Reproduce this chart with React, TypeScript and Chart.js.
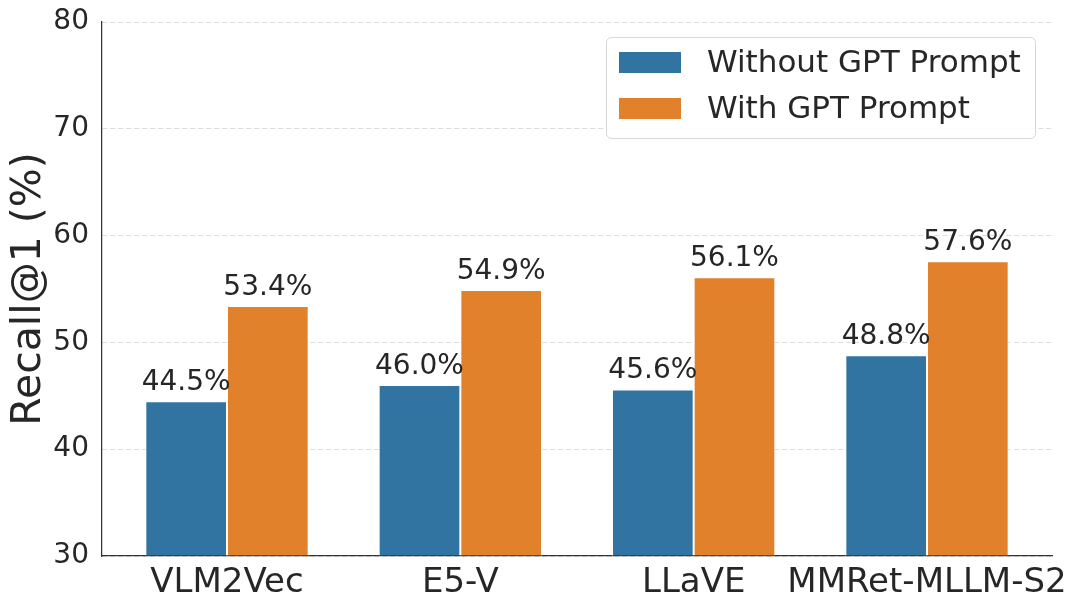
import React, { useEffect, useRef } from "react";
import { Chart, registerables } from "chart.js";

Chart.register(...registerables);

const categories = ["VLM2Vec", "E5-V", "LLaVE", "MMRet-MLLM-S2"];
const withoutGpt = [44.5, 46.0, 45.6, 48.8];
const withGpt = [53.4, 54.9, 56.1, 57.6];
const seriesNames = ["Without GPT Prompt", "With GPT Prompt"];
const seriesColors = ["#3274a1", "#e1812c"];
const yTicks = [30, 40, 50, 60, 70, 80];
const yTitle = "Recall@1 (%)";

const FONT = "'DejaVu Sans', 'Liberation Sans', sans-serif";
const TEXT = "#262626";

const valueLabels = {
  id: "valueLabels",
  afterDatasetsDraw(chart: any) {
    const ctx = chart.ctx;
    ctx.save();
    ctx.font = `28px ${FONT}`;
    ctx.fillStyle = TEXT;
    ctx.textAlign = "center";
    ctx.textBaseline = "alphabetic";
    chart.data.datasets.forEach((ds: any, di: number) => {
      const meta = chart.getDatasetMeta(di);
      meta.data.forEach((el: any, i: number) => {
        const v = ds.data[i].y;
        ctx.fillText(v.toFixed(1) + "%", el.x, el.y - 11);
      });
    });
    ctx.restore();
  },
};

const boxLegend = {
  id: "boxLegend",
  afterDraw(chart: any) {
    const ctx = chart.ctx;
    const area = chart.chartArea;
    const right = area.right - 17;
    const top = area.top + 15;
    const w = 429;
    const h = 101;
    const left = right - w;
    ctx.save();
    ctx.beginPath();
    if (ctx.roundRect) ctx.roundRect(left + 0.5, top + 0.5, w, h, 5);
    else ctx.rect(left + 0.5, top + 0.5, w, h);
    ctx.fillStyle = "rgba(255,255,255,0.85)";
    ctx.fill();
    ctx.strokeStyle = "#d6d6d6";
    ctx.lineWidth = 1;
    ctx.stroke();
    ctx.font = `31px ${FONT}`;
    ctx.textAlign = "left";
    ctx.textBaseline = "middle";
    seriesNames.forEach((name, i) => {
      const cy = top + 25.5 + i * 46;
      ctx.fillStyle = seriesColors[i];
      ctx.fillRect(left + 13, cy - 10.5, 62, 21);
      ctx.fillStyle = TEXT;
      ctx.fillText(name, left + 101, cy + 1);
    });
    ctx.restore();
  },
};

export default function App() {
  const ref = useRef<HTMLCanvasElement | null>(null);
  useEffect(() => {
    if (!ref.current) return;
    const n = categories.length;
    const margin = 0.5357;
    const chart = new Chart(ref.current, {
      type: "bar",
      data: {
        datasets: [withoutGpt, withGpt].map((vals, si) => ({
          label: seriesNames[si],
          data: categories.map((_, i) => ({ x: i, y: vals[i] })),
          backgroundColor: seriesColors[si],
          borderColor: "#ffffff",
          borderWidth: 1,
          base: yTicks[0],
          categoryPercentage: 0.7,
          barPercentage: 1.0,
        })),
      },
      options: {
        responsive: false,
        animation: false,
        devicePixelRatio: 1,
        layout: { padding: { top: 22, right: 28, left: 0, bottom: 0 } },
        plugins: {
          legend: { display: false },
          tooltip: { enabled: false },
        },
        scales: {
          x: {
            type: "linear",
            offset: false,
            min: -margin,
            max: n - 1 + margin,
            grid: { display: false, drawTicks: false, offset: false },
            border: { display: true, color: "#333333", width: 1.25 },
            ticks: {
              font: { family: FONT, size: 34 },
              color: TEXT,
              padding: 7,
              maxRotation: 0,
              autoSkip: false,
              callback: (v: any) => categories[Math.round(v)] ?? "",
            },
            afterBuildTicks: (axis: any) => {
              axis.ticks = categories.map((_, i) => ({ value: i }));
            },
            afterFit: (axis: any) => {
              axis.height = 56;
            },
          },
          y: {
            min: yTicks[0],
            max: yTicks[yTicks.length - 1],
            grid: {
              color: "#dddddd",
              lineWidth: 1,
              drawTicks: false,
            },
            border: { display: true, color: "#333333", width: 1.25, dash: [5, 3] },
            ticks: {
              font: { family: FONT, size: 28, lineHeight: 0.6 },
              color: TEXT,
              padding: 13,
            },
            afterBuildTicks: (axis: any) => {
              axis.ticks = yTicks.map((v) => ({ value: v }));
            },
            afterFit: (axis: any) => {
              axis.width = 102;
              axis.paddingTop = 0;
              axis.paddingBottom = 0;
            },
            title: {
              display: true,
              text: yTitle,
              font: { family: FONT, size: 41 },
              color: TEXT,
              padding: { top: 5, bottom: 0 },
            },
          },
        },
      },
      plugins: [valueLabels, boxLegend],
    } as any);
    return () => chart.destroy();
  }, []);
  return (
    <div style={{ position: "absolute", left: 0, top: 0, width: 1080, height: 612, background: "#fff" }}>
      <canvas ref={ref} width={1080} height={612} />
    </div>
  );
}
